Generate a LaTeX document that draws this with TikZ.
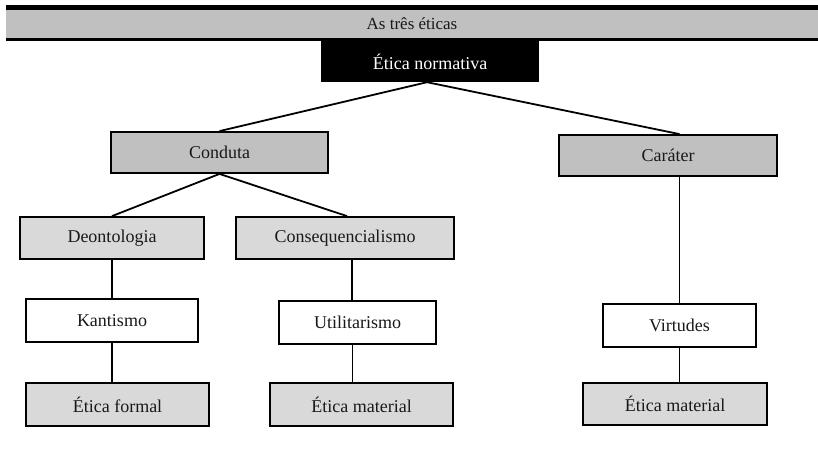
\documentclass[tikz,border=0pt]{standalone}
\usepackage{fontspec}
\setmainfont{Liberation Serif}
\definecolor{darkgr}{HTML}{C0C0C0}
\definecolor{lightgr}{HTML}{D9D9D9}
\begin{document}
\begin{tikzpicture}[x=1pt,y=-1pt,
  box/.style={draw=black, line width=1.8pt, inner sep=0pt, font=\fontsize{18}{20}\selectfont, text=black!90},
  lvltwo/.style={box, fill=darkgr},
  lvlthree/.style={box, fill=lightgr},
  plain/.style={box, fill=white},
  conn/.style={line width=1.8pt, black},
]
\useasboundingbox (0,0) rectangle (818,458);
% banner
\node[fill=darkgr, minimum width=812pt, minimum height=28pt, inner sep=0pt,
      font=\fontsize{17}{19}\selectfont, text=black!90] (title) at (412,24) {As três éticas};
\fill[black] (title.north west) ++(0,-5) rectangle (title.north east);
\fill[black] (title.south west) rectangle ++(812,3);
% top
\node[fill=black, text=white, minimum width=218pt, minimum height=41pt, inner sep=0pt,
      font=\fontsize{18}{20}\selectfont] (en) at (430,61.5) {Ética normativa};
% level two
\node[lvltwo, minimum width=217pt, minimum height=41pt] (cond) at (219.5,152.5) {Conduta};
\node[lvltwo, minimum width=218pt, minimum height=41pt] (car) at (668,155.5) {Caráter};
% level three
\node[lvlthree, minimum width=184pt, minimum height=42pt] (deon) at (112,238) {Deontologia};
\node[lvlthree, minimum width=218pt, minimum height=42pt] (cons) at (345,238) {Consequencialismo};
% level four
\node[plain, minimum width=172pt, minimum height=43pt] (kant) at (112,320.5) {Kantismo};
\node[plain, minimum width=157pt, minimum height=43pt] (util) at (357.5,322.5) {Utilitarismo};
\node[plain, minimum width=153pt, minimum height=43pt] (virt) at (679.5,325.5) {Virtudes};
% level five
\node[lvlthree, minimum width=183pt, minimum height=43pt] (ef) at (117.5,404.5) {Ética formal};
\node[lvlthree, minimum width=183pt, minimum height=43pt] (em1) at (361.5,404.5) {Ética material};
\node[lvlthree, minimum width=184pt, minimum height=42pt] (em2) at (675,404) {Ética material};
% connectors
\draw[conn] ([xshift=-3pt]en.south) -- (cond.north);
\draw[conn] ([xshift=-3pt]en.south) -- (car.north -| virt);
\draw[conn] (cond.south) -- (deon.north);
\draw[conn] (cond.south) -- ([xshift=2pt]cons.north);
\draw[conn] (deon.south) -- (kant.north);
\draw[conn] (kant.south) -- (kant.south |- ef.north);
\draw[conn] ([xshift=7pt]cons.south) -- ([xshift=7pt]cons.south |- util.north);
\draw[conn] ([xshift=-5pt]util.south) -- ([xshift=-5pt]util.south |- em1.north);
\draw[conn] (car.south -| virt) -- (virt.north);
\draw[conn] (virt.south) -- (virt.south |- em2.north);
\end{tikzpicture}
\end{document}
